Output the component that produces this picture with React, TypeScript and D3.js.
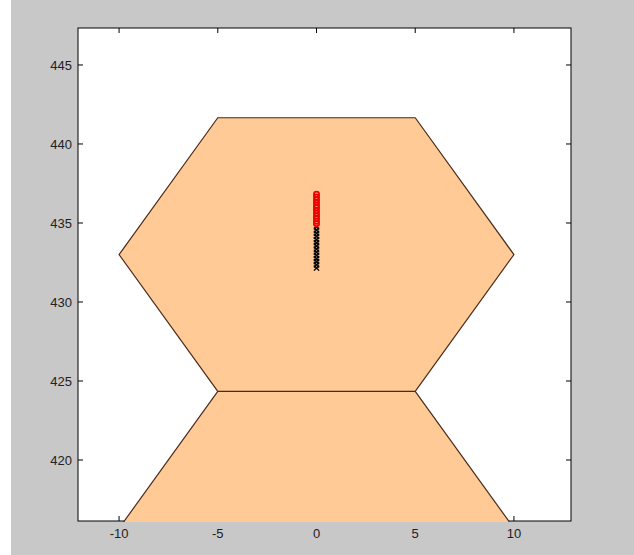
import React from "react";
import * as d3 from "d3";

const xTicks = [-10, -5, 0, 5, 10];
const yTicks = [420, 425, 430, 435, 440, 445];
const xDomain = [-12.08, 12.89];
const yDomain = [416.14, 447.34];

const upperHex: [number, number][] = [
  [-10, 433], [-5, 441.66], [5, 441.66], [10, 433], [5, 424.34], [-5, 424.34],
];
const lowerHex: [number, number][] = [
  [-10, 415.68], [-5, 424.34], [5, 424.34], [10, 415.68], [5, 407.02], [-5, 407.02],
];

const redX = [0, 0, 0, 0, 0, 0, 0, 0, 0, 0, 0, 0];
const redY = [436.82, 436.64, 436.47, 436.3, 436.13, 435.96, 435.79, 435.62, 435.45, 435.28, 435.11, 434.95];
const blackX = [0, 0, 0, 0, 0, 0, 0, 0, 0, 0, 0, 0, 0, 0];
const blackY = [434.75, 434.55, 434.35, 434.15, 433.95, 433.75, 433.55, 433.35, 433.15, 432.95, 432.75, 432.55, 432.35, 432.15];

export default function App() {
  const W = 634, H = 555;
  const L = 78, R = 571, T = 28, B = 521;
  const x = d3.scaleLinear().domain(xDomain).range([L, R]);
  const y = d3.scaleLinear().domain(yDomain).range([B, T]);
  const line = d3.line<[number, number]>().x(d => x(d[0])).y(d => y(d[1])).curve(d3.curveLinearClosed);
  const tl = 5;
  const font = "'Liberation Sans', Arial, sans-serif";
  const edge = "#4a2a18";
  const fill = "#FFCA96";
  return (
    <svg width={W} height={H} style={{ position: "fixed", left: 0, top: 0 }}>
      <rect x={0} y={0} width={W} height={H} fill="#ffffff" />
      <rect x={11} y={0} width={W - 11} height={H} fill="#C8C8C8" />
      <defs>
        <clipPath id="plotclip">
          <rect x={L} y={T} width={R - L} height={B - T + 1} />
        </clipPath>
      </defs>
      <rect x={L} y={T} width={R - L} height={B - T} fill="#ffffff" stroke="#000" strokeWidth={1} />
      {xTicks.map(t => (
        <g key={"xt" + t}>
          <line x1={x(t)} x2={x(t)} y1={B} y2={B - tl} stroke="#000" />
          <line x1={x(t)} x2={x(t)} y1={T} y2={T + tl} stroke="#000" />
        </g>
      ))}
      {yTicks.map(t => (
        <g key={"yt" + t}>
          <line x1={L} x2={L + tl} y1={y(t)} y2={y(t)} stroke="#000" />
          <line x1={R} x2={R - tl} y1={y(t)} y2={y(t)} stroke="#000" />
        </g>
      ))}
      <g clipPath="url(#plotclip)">
        <path d={line(lowerHex) || ""} fill={fill} stroke={edge} strokeWidth={1.2} />
        <path d={line(upperHex) || ""} fill={fill} stroke={edge} strokeWidth={1.2} />
        {blackY.map((v, i) => {
          const cx = x(blackX[i]), cy = y(v), s = 2.6;
          return (
            <g key={"b" + i} stroke="#000" strokeWidth={1.4}>
              <line x1={cx - s} x2={cx + s} y1={cy - s} y2={cy + s} />
              <line x1={cx - s} x2={cx + s} y1={cy + s} y2={cy - s} />
            </g>
          );
        })}
        {redY.map((v, i) => (
          <circle key={"r" + i} cx={x(redX[i])} cy={y(v)} r={2.6} fill="none" stroke="#ee0000" strokeWidth={1.7} />
        ))}
      </g>
      {xTicks.map(t => (
        <text key={"xl" + t} x={x(t)} y={538} textAnchor="middle" fontFamily={font} fontSize={13} fill="#222">{t}</text>
      ))}
      {yTicks.map(t => (
        <text key={"yl" + t} x={72} y={y(t)} dy="0.35em" textAnchor="end" fontFamily={font} fontSize={13} fill="#222">{t}</text>
      ))}
    </svg>
  );
}
